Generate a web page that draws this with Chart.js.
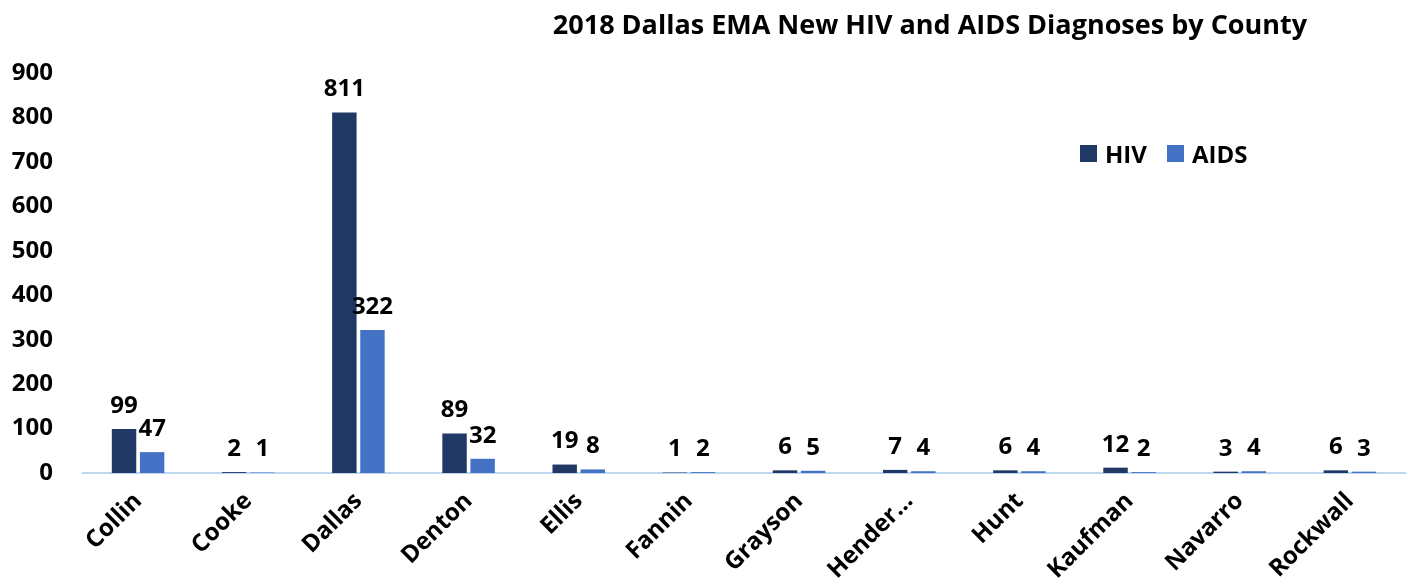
<!DOCTYPE html>
<html>
<head>
<meta charset="utf-8">
<script src="https://cdn.jsdelivr.net/npm/chart.js@4/dist/chart.umd.min.js"></script>
<style>
    html, body { margin: 0; padding: 0; background: #fff; }
    #wrap { position: relative; width: 1408px; height: 586px; }
    #title {
        position: absolute; left: 452px; right: 0; top: 5px;
        text-align: center; font: bold 27px "Open Sans", sans-serif; color: #000;
    }
    #legend {
        position: absolute; left: 1080px; top: 137px;
        display: flex; gap: 20px; font: bold 24px "Open Sans", sans-serif;
    }
    #legend span.item { display: flex; align-items: center; gap: 8px; }
    #legend span.box { width: 17px; height: 17px; display: inline-block; }
    canvas { position: absolute; left: 0; top: 0; }
</style>
</head>
<body>
<div id="wrap">
    <canvas id="countyChart" width="1408" height="586"></canvas>
    <div id="title">2018 Dallas EMA New HIV and AIDS Diagnoses by County</div>
    <div id="legend"></div>
</div>
<script>
// 카운티 목록 및 시리즈 값
const counties = ['Collin', 'Cooke', 'Dallas', 'Denton', 'Ellis', 'Fannin', 'Grayson', 'Hender…', 'Hunt', 'Kaufman', 'Navarro', 'Rockwall'];
const hivValues = [99, 2, 811, 89, 19, 1, 6, 7, 6, 12, 3, 6];
const aidsValues = [47, 1, 322, 32, 8, 2, 5, 4, 4, 2, 4, 3];
const yTicks = [0, 100, 200, 300, 400, 500, 600, 700, 800, 900];

const seriesNames = ['HIV', 'AIDS'];
const seriesColors = ['#203864', '#4472C4'];
const FONT = '"Open Sans", sans-serif';

// 막대 위 값 표시 플러그인
const valueLabels = {
    id: 'valueLabels',
    afterDatasetsDraw(chart) {
        const ctx = chart.ctx;
        ctx.save();
        ctx.font = 'bold 24px ' + FONT;
        ctx.fillStyle = '#000';
        ctx.textAlign = 'center';
        ctx.textBaseline = 'bottom';
        chart.data.datasets.forEach((ds, i) => {
            chart.getDatasetMeta(i).data.forEach((bar, j) => {
                ctx.fillText(String(ds.data[j]), bar.x, bar.y - 11);
            });
        });
        ctx.restore();
    }
};

new Chart(document.getElementById('countyChart'), {
    type: 'bar',
    data: {
        labels: counties,
        datasets: [
            { label: seriesNames[0], data: hivValues, backgroundColor: seriesColors[0] },
            { label: seriesNames[1], data: aidsValues, backgroundColor: seriesColors[1] }
        ]
    },
    options: {
        responsive: false,
        animation: false,
        layout: { padding: { top: 73, right: 3 } },
        datasets: { bar: { categoryPercentage: 0.51, barPercentage: 0.87 } },
        plugins: { legend: { display: false }, title: { display: false }, tooltip: { enabled: false } },
        scales: {
            x: {
                grid: { display: false, drawTicks: false },
                border: { display: true, color: '#BDD7EE', width: 2 },
                ticks: {
                    color: '#000', font: { family: FONT, size: 24, weight: 'bold' },
                    maxRotation: 45, minRotation: 45, padding: 14, autoSkip: false
                },
                afterFit(scale) { scale.height = 113; }
            },
            y: {
                min: 0, max: 900,
                grid: { display: false, drawTicks: false },
                border: { display: false },
                afterBuildTicks(scale) { scale.ticks = yTicks.map(v => ({ value: v })); },
                ticks: { color: '#000', font: { family: FONT, size: 24, weight: 'bold' }, padding: 30 },
                afterFit(scale) { scale.width = 83; }
            }
        }
    },
    plugins: [valueLabels]
});

// 범례
const legendEl = document.getElementById('legend');
seriesNames.forEach((name, i) => {
    legendEl.insertAdjacentHTML('beforeend',
        `<span class="item"><span class="box" style="background:${seriesColors[i]}"></span>${name}</span>`);
});
</script>
</body>
</html>
